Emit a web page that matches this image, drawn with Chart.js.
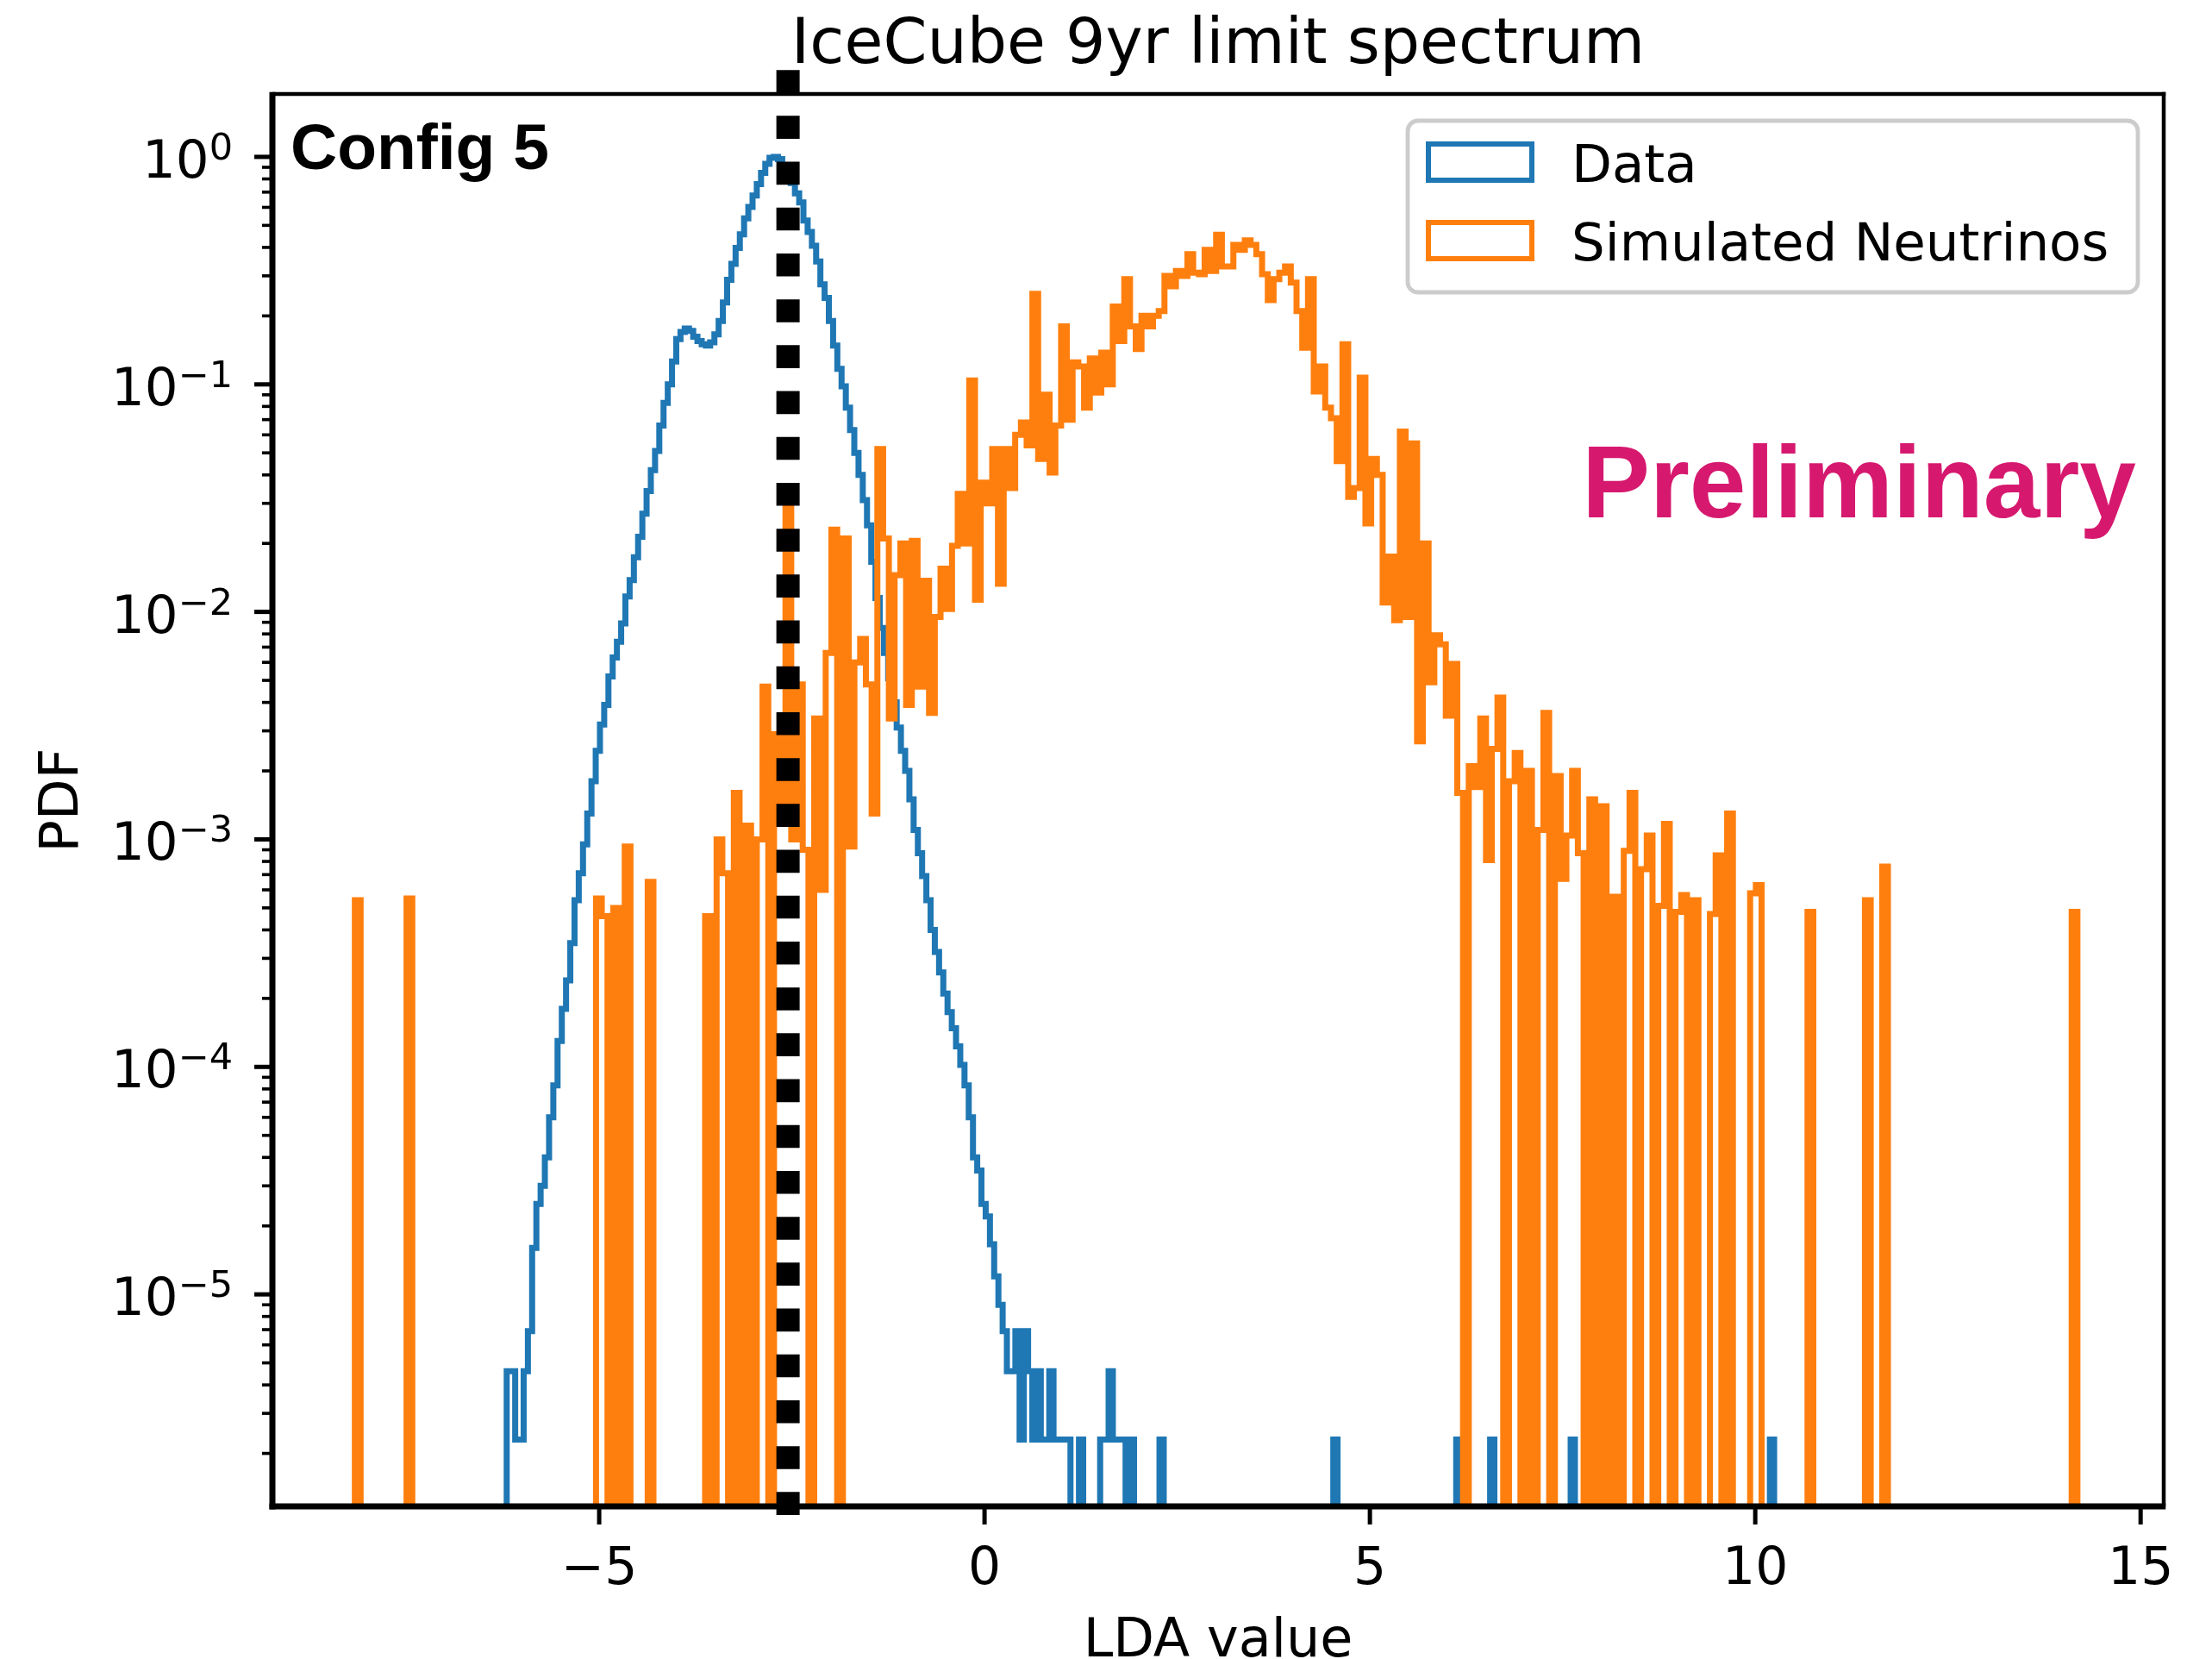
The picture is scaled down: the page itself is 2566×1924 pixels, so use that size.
<!DOCTYPE html>
<html>
<head>
<meta charset="utf-8">
<title>IceCube 9yr limit spectrum</title>
<script src="https://cdn.jsdelivr.net/npm/chart.js@4.4.1/dist/chart.umd.min.js"></script>
<style>
  html, body { margin: 0; padding: 0; background: #fff; }
  canvas { display: block; }
</style>
</head>
<body>
<canvas id="chart" width="2566" height="1924"></canvas>
<script>
// histogram binning (left edge of first bin, bin width)
var dataBinStart = -6.2, dataBinWidth = 0.055;
var simBinStart = -8.17, simBinWidth = 0.0745;

// normalised counts per bin, Data
var dataPdf = [
  4.6e-6, 4.6e-6, 2.3e-6, 2.3e-6, 4.6e-6, 6.9e-6, 1.6e-5, 2.5e-5, 3.0e-5, 4.0e-5,
  6.0e-5, 8.3e-5, 1.3e-4, 1.8e-4, 2.4e-4, 3.5e-4, 5.4e-4, 7.1e-4, 9.5e-4, 1.3e-3,
  1.8e-3, 2.45e-3, 3.2e-3, 3.9e-3, 5.2e-3, 6.3e-3, 7.4e-3, 8.9e-3, 1.17e-2, 1.38e-2,
  1.74e-2, 2.14e-2, 2.7e-2, 3.4e-2, 4.2e-2, 5.1e-2, 6.6e-2, 8.3e-2, 0.100, 0.126,
  0.158, 0.170, 0.176, 0.172, 0.162, 0.155, 0.150, 0.148, 0.153, 0.166,
  0.190, 0.229, 0.288, 0.339, 0.398, 0.457, 0.537, 0.603, 0.676, 0.759,
  0.851, 0.933, 0.990, 1.000, 0.977, 0.912, 0.832, 0.767, 0.692, 0.631,
  0.525, 0.468, 0.407, 0.347, 0.275, 0.240, 0.190, 0.148, 0.117, 0.098,
  0.079, 0.063, 0.050, 0.040, 0.031, 0.024, 0.0166, 0.0115, 0.0085, 0.0066,
  0.0051, 0.0040, 0.0031, 0.00245, 0.0020, 0.0015, 0.0011, 8.7e-4, 6.9e-4, 5.4e-4,
  4.0e-4, 3.2e-4, 2.6e-4, 2.1e-4, 1.74e-4, 1.48e-4, 1.23e-4, 1.02e-4, 8.3e-5, 6.0e-5,
  4.0e-5, 3.5e-5, 2.5e-5, 2.2e-5, 1.66e-5, 1.2e-5, 9.0e-6, 6.9e-6, 4.6e-6, 4.6e-6,
  6.9e-6, 2.3e-6, 6.9e-6, 4.6e-6, 2.3e-6, 4.6e-6, 2.3e-6, 2.3e-6, 4.6e-6, 2.3e-6,
  2.3e-6, 2.3e-6, 2.3e-6, 0, 0, 2.3e-6, 0, 0, 0, 0,
  2.3e-6, 2.3e-6, 4.6e-6, 2.3e-6, 2.3e-6, 2.3e-6, 0, 2.3e-6, 0, 0,
  0, 0, 0, 0, 2.3e-6, 0, 0, 0, 0, 0,
  0, 0, 0, 0, 0, 0, 0, 0, 0, 0,
  0, 0, 0, 0, 0, 0, 0, 0, 0, 0,
  0, 0, 0, 0, 0, 0, 0, 0, 0, 0,
  0, 0, 0, 0, 0, 2.3e-6, 0, 0, 0, 0,
  0, 0, 0, 0, 0, 0, 0, 0, 0, 0,
  0, 0, 0, 0, 0, 0, 0, 0, 0, 0,
  0, 0, 0, 0, 2.3e-6, 0, 0, 0, 0, 0,
  0, 0, 2.3e-6, 0, 0, 0, 0, 0, 0, 0,
  0, 0, 0, 0, 0, 0, 0, 0, 0, 0,
  0, 2.3e-6, 0, 0, 0, 0, 0, 0, 0, 0,
  0, 0, 0, 0, 0, 0, 0, 0, 0, 0,
  0, 0, 0, 0, 0, 0, 0, 0, 0, 0,
  0, 0, 0, 0, 0, 0, 0, 0, 0, 0,
  0, 0, 0, 0, 0, 0, 0, 0, 2.3e-6, 0
];

// normalised weighted counts per bin, Simulated Neutrinos
var simPdf = [
  5.4e-4, 0, 0, 0, 0, 0, 0, 0, 0, 5.5e-4,
  0, 0, 0, 0, 0, 0, 0, 0, 0, 0,
  0, 0, 0, 0, 0, 0, 0, 0, 0, 0,
  0, 0, 0, 0, 0, 0, 0, 0, 0, 0,
  0, 0, 5.5e-4, 4.6e-4, 0, 5.0e-4, 0, 9.3e-4, 0, 0,
  0, 6.5e-4, 0, 0, 0, 0, 0, 0, 0, 0,
  0, 4.6e-4, 0, 1.0e-3, 7.1e-4, 0, 1.6e-3, 0, 1.15e-3, 0,
  1.0e-3, 4.7e-3, 0, 2.9e-3, 1.2e-3, 3.0e-2, 1.0e-3, 4.8e-3, 9.0e-4, 0,
  3.4e-3, 6.0e-4, 6.6e-3, 2.3e-2, 0, 2.1e-2, 9.3e-4, 6.0e-3, 7.6e-3, 4.8e-3,
  1.3e-3, 5.2e-2, 2.1e-2, 3.4e-3, 1.45e-2, 2.0e-2, 3.9e-3, 2.05e-2, 4.7e-3, 1.37e-2,
  3.6e-3, 9.5e-3, 1.55e-2, 1.03e-2, 1.95e-2, 3.3e-2, 2.0e-2, 0.104, 1.13e-2, 3.7e-2,
  3.0e-2, 5.2e-2, 1.33e-2, 5.2e-2, 3.5e-2, 6.0e-2, 6.8e-2, 5.4e-2, 0.25, 4.7e-2,
  9.0e-2, 4.1e-2, 6.6e-2, 0.18, 7.0e-2, 0.125, 0.12, 7.9e-2, 0.13, 9.2e-2,
  0.138, 0.10, 0.22, 0.155, 0.29, 0.18, 0.143, 0.20, 0.18, 0.20,
  0.21, 0.30, 0.27, 0.315, 0.30, 0.374, 0.31, 0.305, 0.39, 0.315,
  0.455, 0.33, 0.33, 0.41, 0.39, 0.43, 0.41, 0.374, 0.305, 0.235,
  0.29, 0.31, 0.33, 0.28, 0.21, 0.145, 0.29, 0.093, 0.12, 0.079,
  0.071, 0.046, 0.15, 0.032, 0.035, 0.107, 0.0245, 0.047, 0.040, 0.011,
  0.0175, 0.0092, 0.062, 0.0095, 0.055, 0.0027, 0.020, 0.0049, 0.0079, 0.0072,
  0.0035, 0.0059, 0.0016, 0, 0.0021, 0.0017, 0.0034, 8.1e-4, 0.0025, 0.0042,
  0, 0.0018, 0.0024, 0, 0.0020, 0, 0.0011, 0.0036, 0, 0.0019,
  6.7e-4, 1.04e-3, 0.0020, 8.7e-4, 0, 0.0015, 0, 0.0014, 0, 5.6e-4,
  0, 8.9e-4, 0.0016, 0, 7.4e-4, 1.04e-3, 0, 5.1e-4, 1.17e-3, 0,
  4.8e-4, 5.7e-4, 0, 5.4e-4, 0, 0, 4.7e-4, 8.5e-4, 0, 0.0013,
  0, 0, 0, 5.8e-4, 6.3e-4, 0, 0, 0, 0, 0,
  0, 0, 0, 4.8e-4, 0, 0, 0, 0, 0, 0,
  0, 0, 0, 5.4e-4, 0, 0, 7.6e-4, 0, 0, 0,
  0, 0, 0, 0, 0, 0, 0, 0, 0, 0,
  0, 0, 0, 0, 0, 0, 0, 0, 0, 0,
  0, 0, 0, 0, 0, 0, 0, 0, 0, 4.8e-4
];

// LDA cut and the extent of its marker line
var cutValue = -2.55;
var cutSpan = [1.06e-6, 2.41];

// axis limits and ticks
var xLimits = [-9.24, 15.30];
var yLimits = [1.17e-6, 1.89];
var xTicks = [-5, 0, 5, 10, 15];
var xTickLabels = ['\u22125', '0', '5', '10', '15'];
var yTickExponents = [-5, -4, -3, -2, -1, 0];

var seriesLabels = ['Data', 'Simulated Neutrinos'];
var seriesColors = ['#1f77b4', '#ff7f0e'];

// log axis cannot show empty bins, push them below the frame
var EMPTY = 1e-9;
var HIST_LW = 7;

function stepPoints(start, width, values) {
  var pts = [{x: start, y: EMPTY}];
  for (var i = 0; i < values.length; i++) {
    pts.push({x: start + width * i, y: values[i] > 0 ? values[i] : EMPTY});
  }
  pts.push({x: start + width * values.length, y: EMPTY});
  return pts;
}

var yMinorTicks = [];
for (var e = -6; e <= 0; e++) {
  for (var s = 2; s <= 9; s++) {
    var v = s * Math.pow(10, e);
    if (v > yLimits[0] && v < yLimits[1]) yMinorTicks.push(v);
  }
}

function line(c, x1, y1, x2, y2) {
  c.beginPath(); c.moveTo(x1, y1); c.lineTo(x2, y2); c.stroke();
}

function roundRect(c, x, y, w, h, r) {
  c.beginPath();
  c.moveTo(x + r, y);
  c.lineTo(x + w - r, y); c.arcTo(x + w, y, x + w, y + r, r);
  c.lineTo(x + w, y + h - r); c.arcTo(x + w, y + h, x + w - r, y + h, r);
  c.lineTo(x + r, y + h); c.arcTo(x, y + h, x, y + h - r, r);
  c.lineTo(x, y + r); c.arcTo(x, y, x + r, y, r);
  c.closePath();
}

var FONT = '"DejaVu Sans", sans-serif';
var BOLD = 'bold {s}px "Liberation Sans", Arial, sans-serif';

var decor = {
  id: 'decor',
  beforeDraw: function(chart) {
    var c = chart.ctx;
    c.save();
    c.fillStyle = '#fff';
    c.fillRect(0, 0, chart.width, chart.height);
    c.restore();
  },
  afterDraw: function(chart) {
    var c = chart.ctx, a = chart.chartArea;
    var xs = chart.scales.x, ys = chart.scales.y;
    c.save();
    c.strokeStyle = '#000';
    c.fillStyle = '#000';

    // frame
    c.lineWidth = 4.5;
    line(c, a.left, a.top, a.right + 2.25, a.top);
    line(c, a.right, a.top - 2.25, a.right, a.bottom);
    c.lineWidth = 7;
    line(c, a.left, a.top - 2.25, a.left, a.bottom + 3.5);
    line(c, a.left - 3.5, a.bottom, a.right + 2.25, a.bottom);

    // x ticks and labels
    c.lineWidth = 5;
    c.font = '60px ' + FONT;
    c.textAlign = 'center';
    c.textBaseline = 'alphabetic';
    xTicks.forEach(function(v, i) {
      var px = xs.getPixelForValue(v);
      line(c, px, a.bottom, px, a.bottom + 21);
      c.fillText(xTickLabels[i], px, a.bottom + 90);
    });

    // y ticks
    c.lineWidth = 3.6;
    yMinorTicks.forEach(function(v) {
      var py = ys.getPixelForValue(v);
      line(c, a.left, py, a.left - 12, py);
    });
    c.lineWidth = 5;
    c.textAlign = 'right';
    var labelRight = a.left - 46;
    yTickExponents.forEach(function(e) {
      var py = ys.getPixelForValue(Math.pow(10, e));
      line(c, a.left, py, a.left - 21, py);
      var sup = e === 0 ? '0' : '\u2212' + Math.abs(e);
      c.font = '43px ' + FONT;
      var supW = c.measureText(sup).width;
      c.fillText(sup, labelRight, py + 3);
      c.font = '61px ' + FONT;
      c.fillText('10', labelRight - supW, py + 24);
    });

    // title and axis labels
    var midX = (a.left + a.right) / 2;
    c.textAlign = 'center';
    c.font = '73px ' + FONT;
    c.fillText('IceCube 9yr limit spectrum', midX, a.top - 36);
    c.font = '62px ' + FONT;
    c.fillText('LDA value', midX, a.bottom + 174);
    c.save();
    c.translate(90, (a.top + a.bottom) / 2);
    c.rotate(-Math.PI / 2);
    c.fillText('PDF', 0, 0);
    c.restore();

    // annotations
    c.textAlign = 'left';
    c.font = BOLD.replace('{s}', 75);
    c.fillText('Config 5', a.left + 21, a.top + 87);
    c.textAlign = 'right';
    c.fillStyle = '#d6196f';
    c.font = BOLD.replace('{s}', 118);
    c.fillText('Preliminary', a.right - 32, a.top + 491);

    // legend
    var lw = 847, lh = 199;
    var lx = a.right - 30 - lw, ly = a.top + 31;
    roundRect(c, lx, ly, lw, lh, 12);
    c.fillStyle = 'rgba(255,255,255,0.8)';
    c.fill();
    c.lineWidth = 4.8;
    c.strokeStyle = '#cccccc';
    c.stroke();
    c.font = '61px ' + FONT;
    c.textAlign = 'left';
    seriesLabels.forEach(function(label, i) {
      var cy = ly + 48 + i * 91;
      c.fillStyle = '#fff';
      c.fillRect(lx + 24, cy - 21, 120, 42);
      c.lineWidth = 6;
      c.strokeStyle = seriesColors[i];
      c.strokeRect(lx + 24, cy - 21, 120, 42);
      c.fillStyle = '#000';
      c.fillText(label, lx + 190, cy + 23);
    });
    c.restore();
  }
};

var ctx = document.getElementById('chart').getContext('2d');
var chart = new Chart(ctx, {
  type: 'line',
  data: {
    datasets: [{
      label: 'LDA cut',
      data: [{x: cutValue, y: cutSpan[1]}, {x: cutValue, y: cutSpan[0]}],
      borderColor: '#000',
      borderWidth: 27,
      borderDash: [26.6, 26.6],
      borderCapStyle: 'butt',
      clip: false,
      order: 0
    }, {
      label: seriesLabels[1],
      data: stepPoints(simBinStart, simBinWidth, simPdf),
      borderColor: seriesColors[1],
      borderWidth: HIST_LW,
      stepped: 'before',
      borderJoinStyle: 'miter',
      order: 1
    }, {
      label: seriesLabels[0],
      data: stepPoints(dataBinStart, dataBinWidth, dataPdf),
      borderColor: seriesColors[0],
      borderWidth: HIST_LW,
      stepped: 'before',
      borderJoinStyle: 'miter',
      order: 2
    }]
  },
  options: {
    responsive: false,
    animation: false,
    devicePixelRatio: 1,
    layout: {padding: {left: 0, right: 56, top: 109, bottom: 0}},
    elements: {point: {radius: 0}, line: {tension: 0, fill: false, borderWidth: HIST_LW}},
    plugins: {
      legend: {display: false},
      title: {display: false},
      tooltip: {enabled: false}
    },
    scales: {
      x: {
        type: 'linear',
        min: xLimits[0],
        max: xLimits[1],
        bounds: 'data',
        ticks: {display: false},
        grid: {display: false},
        border: {display: false},
        afterFit: function(scale) { scale.height = 177; }
      },
      y: {
        type: 'logarithmic',
        min: yLimits[0],
        max: yLimits[1],
        bounds: 'data',
        ticks: {display: false},
        grid: {display: false},
        border: {display: false},
        afterFit: function(scale) { scale.width = 316; }
      }
    }
  },
  plugins: [decor]
});
</script>
</body>
</html>
